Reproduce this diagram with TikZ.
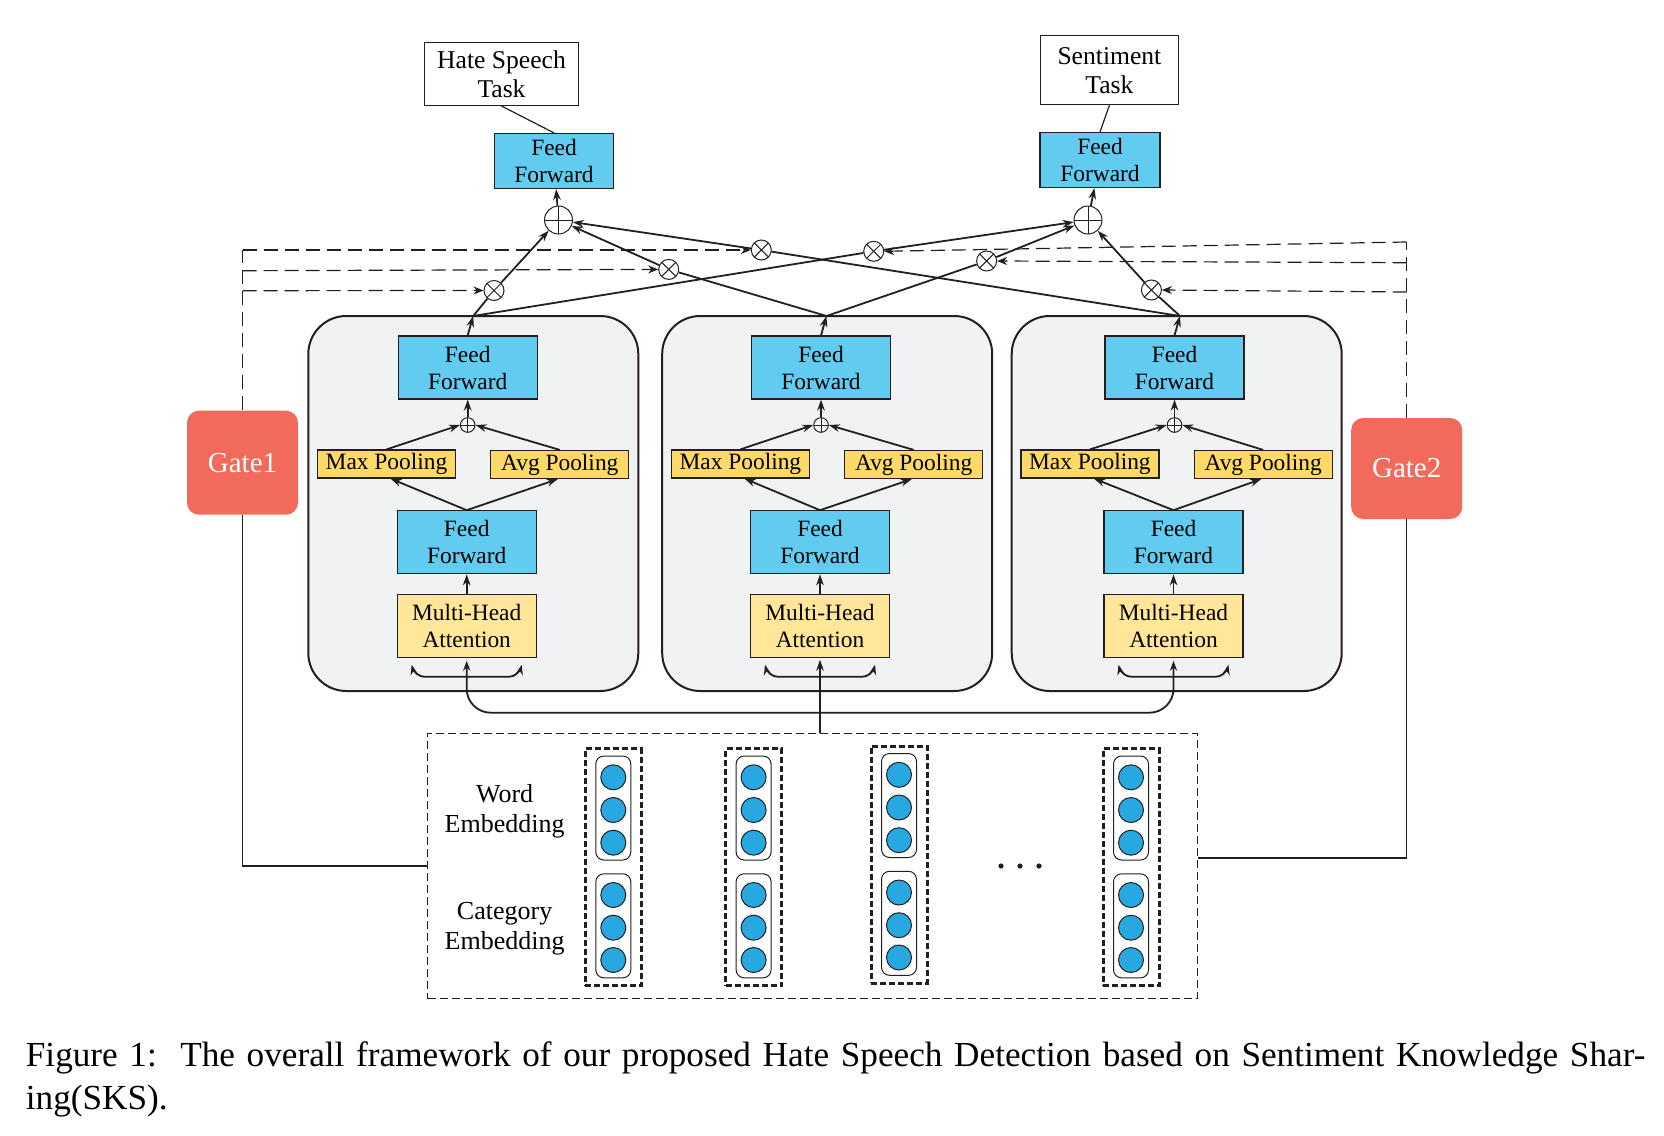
\documentclass[tikz,border=0pt]{standalone}
\usepackage{fontspec}
\setmainfont{Liberation Serif}
\usetikzlibrary{arrows.meta,calc}
\definecolor{ffblue}{RGB}{97,203,240}
\definecolor{poolyellow}{RGB}{255,217,102}
\definecolor{mhayellow}{RGB}{255,230,153}
\definecolor{gatered}{RGB}{241,106,91}
\definecolor{blockgray}{RGB}{241,242,244}
\definecolor{embblue}{RGB}{40,168,224}
\definecolor{linecol}{RGB}{35,31,32}
\begin{document}
\begin{tikzpicture}[x=0.5pt,y=-0.5pt,
  ff/.style={draw=linecol, line width=0.6pt, fill=ffblue, minimum width=69.5pt, minimum height=31.5pt, inner sep=0pt, align=center, font=\fontsize{11.7}{13.5}\selectfont},
  mha/.style={ff, fill=mhayellow},
  pool/.style={draw=linecol, line width=0.6pt, fill=poolyellow, minimum width=69pt, minimum height=14pt, inner sep=0pt, font=\fontsize{11.7}{13.5}\selectfont},
  blockbox/.style={draw=linecol, line width=1pt, fill=blockgray, rounded corners=19pt, minimum width=165pt, minimum height=187.5pt, inner sep=0pt},
  task/.style={draw=linecol, line width=0.5pt, fill=white, inner sep=0pt, align=center, font=\fontsize{12.8}{14.5}\selectfont},
  gate/.style={fill=gatered, rounded corners=6pt, minimum width=55.5pt, minimum height=52pt, inner sep=0pt, text=white, font=\fontsize{14.5}{16}\selectfont},
  bigplus/.style={circle, draw=linecol, line width=0.5pt, fill=white, minimum size=14pt, inner sep=0pt,
    path picture={\draw[line width=0.5pt] (path picture bounding box.north) -- (path picture bounding box.south) (path picture bounding box.west) -- (path picture bounding box.east);}},
  smallplus/.style={bigplus, minimum size=7.3pt},
  timesop/.style={circle, draw=linecol, line width=0.5pt, fill=white, minimum size=10pt, inner sep=0pt,
    path picture={\draw[line width=0.5pt] (path picture bounding box.north west) -- (path picture bounding box.south east) (path picture bounding box.north east) -- (path picture bounding box.south west);}},
  conn/.style={draw=linecol, line width=0.9pt},
  arr/.style={conn, -{Stealth[length=5.5pt,width=3.8pt]}},
  gdash/.style={draw=linecol, line width=0.6pt, dash pattern=on 7pt off 3.5pt},
  gdasharr/.style={gdash, -{Stealth[length=5pt,width=4pt]}},
  colbox/.style={draw=linecol, line width=1.5pt, dash pattern=on 3pt off 1.5pt, minimum width=28pt, minimum height=118.5pt, inner sep=0pt},
  vecbox/.style={draw=linecol, line width=0.5pt, rounded corners=4pt, minimum width=17.5pt, minimum height=52pt, inner sep=0pt},
  embdot/.style={circle, draw=linecol, line width=0.5pt, fill=embblue, minimum size=12.5pt, inner sep=0pt},
  blackdot/.style={circle, fill=linecol, minimum size=2.6pt, inner sep=0pt},
  lab/.style={align=center, inner sep=0pt, font=\fontsize{13}{15}\selectfont}
]
\fill[white] (0,0) rectangle (1664,1135);
\path[use as bounding box] (0,0) rectangle (1664,1135);

% blocks
\foreach \i/\L/\c in {1/308.3/159.4, 2/662.2/158.8, 3/1011.7/162.8}{
  \node[blockbox] (blk\i) at (\L+165, 503.5) {};
  \node[ff] (fft\i) at (\L+\c, 367.5) {Feed\\Forward};
  \node[smallplus] (sp\i) at (\L+\c, 425) {};
  \node[pool] (maxp\i) at (\L+78.2, 464) {Max Pooling};
  \node[pool] (avgp\i) at (\L+251.5, 464.5) {Avg Pooling};
  \node[ff] (ffb\i) at (\L+\c-1, 542.3) {Feed\\Forward};
  \node[mha] (mha\i) at (\L+\c-1, 625.7) {Multi-Head\\Attention};
  \coordinate (J\i) at (\L+\c+5.5, 316);
  \draw[arr] (mha\i.north) -- (ffb\i.south);
  \draw[arr] (ffb\i.north) -- ([xshift=2pt]maxp\i.south);
  \draw[arr] (ffb\i.north) -- ([xshift=-1pt]avgp\i.south);
  \draw[arr] (maxp\i.north) -- (sp\i.west);
  \draw[arr] (avgp\i.north) -- (sp\i.east);
  \draw[arr] (sp\i.north) -- (fft\i.south);
  \draw[arr] (fft\i.north) -- (J\i);
  \draw[conn, {Stealth[length=5pt,width=3.6pt]}-{Stealth[length=5pt,width=3.6pt]}, rounded corners=5pt]
    ($(mha\i.south)+(-55,7)$) -- ($(mha\i.south)+(-52,19)$) -- ($(mha\i.south)+(52,19)$) -- ($(mha\i.south)+(55,7)$);
}

% top section
\node[bigplus] (opL) at (558.5,220) {};
\node[bigplus] (opR) at (1088,220) {};
\node[timesop] (tA) at (494,290.5) {};
\node[timesop] (tB) at (668.7,269.4) {};
\node[timesop] (tC) at (761.3,250) {};
\node[timesop] (tD) at (873.7,251.3) {};
\node[timesop] (tE) at (986.6,261) {};
\node[timesop] (tF) at (1151.4,290) {};

\draw[conn] (J1) -- (tA); \draw[arr] (tA) -- (opL);
\draw[conn] (J1) -- (tD); \draw[arr] (tD) -- (opR);
\draw[conn] (J2) -- (tB); \draw[arr] (tB) -- (opL);
\draw[conn] (J2) -- (tE); \draw[arr] (tE) -- (opR);
\draw[conn] (J3) -- (tC); \draw[arr] (tC) -- (opL);
\draw[conn] (J3) -- (tF); \draw[arr] (tF) -- (opR);

\node[ff, minimum width=59.5pt, minimum height=27.5pt] (topL) at (554,161) {Feed\\Forward};
\node[ff, minimum width=60pt, minimum height=27.5pt] (topR) at (1100,160) {Feed\\Forward};
\draw[arr] (opL) -- (topL);
\draw[arr] (opR) -- (topR);
\node[task, minimum width=77pt, minimum height=31.5pt] (hate) at (501.5,74) {Hate Speech\\Task};
\node[task, minimum width=69pt, minimum height=34.5pt] (sent) at (1109.4,70.3) {Sentiment\\Task};
\draw[conn, line width=0.6pt] (hate.south) -- (topL.north);
\draw[conn, line width=0.6pt] (sent.south) -- (topR.north);

% gates
\node[gate] (g1) at (242.5,462.7) {Gate1};
\node[gate, minimum height=50.5pt] (g2) at (1406.7,468.5) {Gate2};
\coordinate (g1a) at (242.5,250);
\coordinate (g1b) at (242.5,270.7);
\coordinate (g1c) at (242.5,290.7);
\draw[gdash] (g1.north) -- (g1a);
\draw[gdasharr] (g1a) -- (tC.west);
\draw[gdasharr] (g1b) -- (tB.west);
\draw[gdasharr] (g1c) -- (tA.west);
\coordinate (g2a) at (1406.7,242);
\coordinate (g2b) at (1406.7,262.7);
\coordinate (g2c) at (1406.7,292);
\draw[gdash] (g2.north) -- (g2a);
\draw[gdasharr] (g2a) -- (tD.east);
\draw[gdasharr] (g2b) -- (tE.east);
\draw[gdasharr] (g2c) -- (tF.east);

% embedding area
\node[draw=linecol, line width=0.5pt, dash pattern=on 4pt off 2pt, minimum width=384.65pt, minimum height=132.65pt, inner sep=0pt] (emb) at (812.35,866) {};
\draw[conn, line width=0.6pt] (g1.south) |- (emb.west);
\draw[conn, line width=0.6pt] (g2.south) |- ([yshift=4pt]emb.east);

\foreach \j/\cx/\dy in {1/613.3/0, 2/753.6/0, 3/899/-2.5, 4/1131/0}{
  \node[colbox] (col\j) at (\cx, 867+\dy) {};
  \node[vecbox] (wv\j) at (\cx, 808+\dy) {};
  \node[vecbox] (cv\j) at (\cx, 925.8+\dy) {};
  \foreach \k/\cy in {a/777.3, b/810, c/842.7, d/895, e/927.7, f/960}{
    \node[embdot] (e\j\k) at (\cx, \cy+\dy) {};
  }
}
\node[blackdot] (dt1) at (1001,866) {};
\node[blackdot] (dt2) at (1020,866) {};
\node[blackdot] (dt3) at (1039,866) {};
\node[lab] (wlab) at (504.6,811) {Word\\Embedding};
\node[lab] (clab) at (504.6,929) {Category\\Embedding};

% connections from embedding to attention
\coordinate (busy) at (0,712.7);
\draw[arr] (mha2.south |- emb.north) -- ([yshift=-1pt]mha2.south);
\draw[conn, {Stealth[length=5pt,width=3.6pt]}-{Stealth[length=5pt,width=3.6pt]}, rounded corners=12pt]
  ([yshift=-1.5pt]mha1.south) -- (mha1.south |- busy) -- (mha3.south |- busy) -- ([yshift=-1.5pt]mha3.south);

% caption
\node[anchor=base west, inner sep=0pt, font=\fontsize{17.6}{21.5}\selectfont] (cap1) at (25.5,1066)
  {\makebox[809.75pt][s]{Figure 1:\ \ The overall framework of our proposed Hate Speech Detection based on Sentiment Knowledge Shar-}};
\node[anchor=base west, inner sep=0pt, font=\fontsize{17.6}{21.5}\selectfont] (cap2) at (25.5,1109) {ing(SKS).};
\end{tikzpicture}
\end{document}
